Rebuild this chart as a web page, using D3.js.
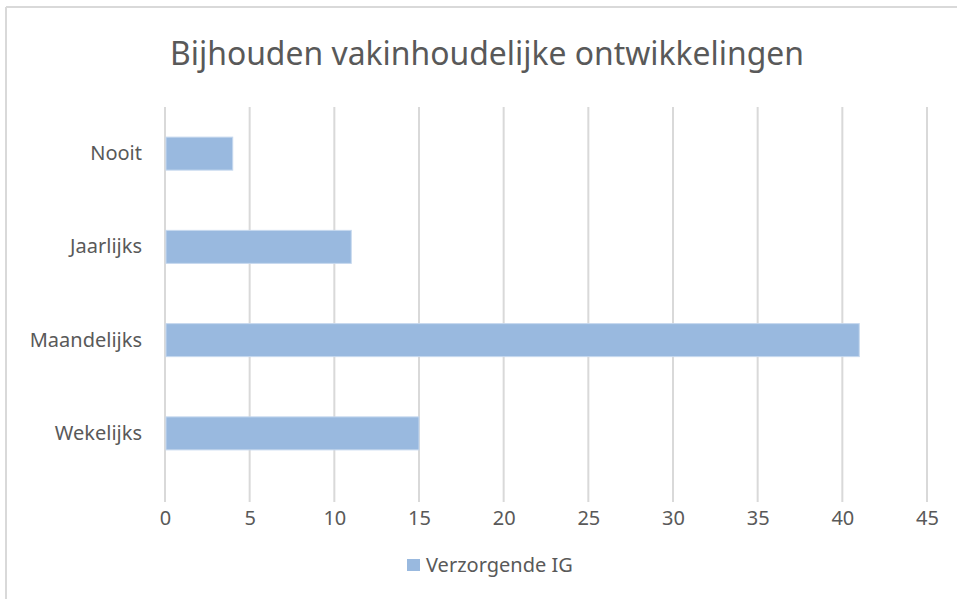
<!DOCTYPE html>
<html lang="nl">
<head>
<meta charset="UTF-8">
<script src="https://cdn.jsdelivr.net/npm/d3@7"></script>
<title>Bijhouden vakinhoudelijke ontwikkelingen</title>
<style>
    body { margin: 0; background: #fff; }
    text { font-family: "Noto Sans", "Open Sans", sans-serif; fill: #595959; }
</style>
</head>
<body>
<div id="chart"></div>
<script>
    // data
    const categories = ["Nooit", "Jaarlijks", "Maandelijks", "Wekelijks"];
    const values = [4, 11, 41, 15];
    const tickValues = [0, 5, 10, 15, 20, 25, 30, 35, 40, 45];
    const seriesName = "Verzorgende IG";
    const title = "Bijhouden vakinhoudelijke ontwikkelingen";

    const width = 957, height = 599;
    const plot = { left: 165, right: 927, top: 107, bottom: 480, gridBottom: 502 };

    const svg = d3.select("#chart").append("svg")
        .attr("width", width)
        .attr("height", height);

    svg.append("rect").attr("width", width).attr("height", height).attr("fill", "#fff");

    // chart border (only top and left visible in the crop)
    svg.append("line").attr("x1", 6).attr("x2", width).attr("y1", 7).attr("y2", 7)
        .attr("stroke", "#d9d9d9").attr("stroke-width", 2);
    svg.append("line").attr("x1", 6).attr("x2", 6).attr("y1", 7).attr("y2", height)
        .attr("stroke", "#d9d9d9").attr("stroke-width", 2);

    // title
    svg.append("text")
        .attr("x", 487).attr("y", 65)
        .attr("text-anchor", "middle")
        .attr("font-size", 33)
        .attr("textLength", 634)
        .attr("lengthAdjust", "spacingAndGlyphs")
        .text(title);

    const x = d3.scaleLinear().domain([0, 45]).range([plot.left, plot.right]);
    const y = d3.scaleBand().domain(categories)
        .range([plot.top, plot.bottom])
        .paddingInner(0.646).paddingOuter(0.323);

    // vertical gridlines
    svg.append("g").selectAll("line")
        .data(tickValues)
        .join("line")
        .attr("x1", d => x(d)).attr("x2", d => x(d))
        .attr("y1", plot.top).attr("y2", plot.gridBottom)
        .attr("stroke", "#d9d9d9").attr("stroke-width", 2);

    // bars
    svg.append("g").selectAll("rect")
        .data(categories)
        .join("rect")
        .attr("x", x(0) + 1)
        .attr("y", d => y(d))
        .attr("width", (d, i) => x(values[i]) - x(0) - 1)
        .attr("height", y.bandwidth())
        .attr("fill", "#99b9df")
        .attr("stroke", "#c6d8ee")
        .attr("stroke-width", 1);

    // x axis labels
    const xAxis = d3.axisBottom(x).tickValues(tickValues).tickSize(0).tickPadding(0);
    const gx = svg.append("g").attr("transform", `translate(0,${plot.gridBottom})`).call(xAxis);
    gx.select(".domain").remove();
    gx.selectAll("text").attr("font-size", 20).attr("dy", "1.15em")
        .style("font-family", '"Noto Sans", sans-serif').attr("fill", "#595959");

    // y axis labels
    const yAxis = d3.axisLeft(y).tickSize(0).tickPadding(23);
    const gy = svg.append("g").attr("transform", `translate(${plot.left},0)`).call(yAxis);
    gy.select(".domain").remove();
    gy.selectAll("text").attr("font-size", 20)
        .style("font-family", '"Noto Sans", sans-serif').attr("fill", "#595959");

    // legend
    const legend = svg.append("g").attr("transform", "translate(407,559)");
    legend.append("rect").attr("width", 13).attr("height", 12).attr("fill", "#99b9df");
    legend.append("text").attr("x", 19).attr("y", 13)
        .attr("font-size", 20)
        .text(seriesName);
</script>
</body>
</html>
